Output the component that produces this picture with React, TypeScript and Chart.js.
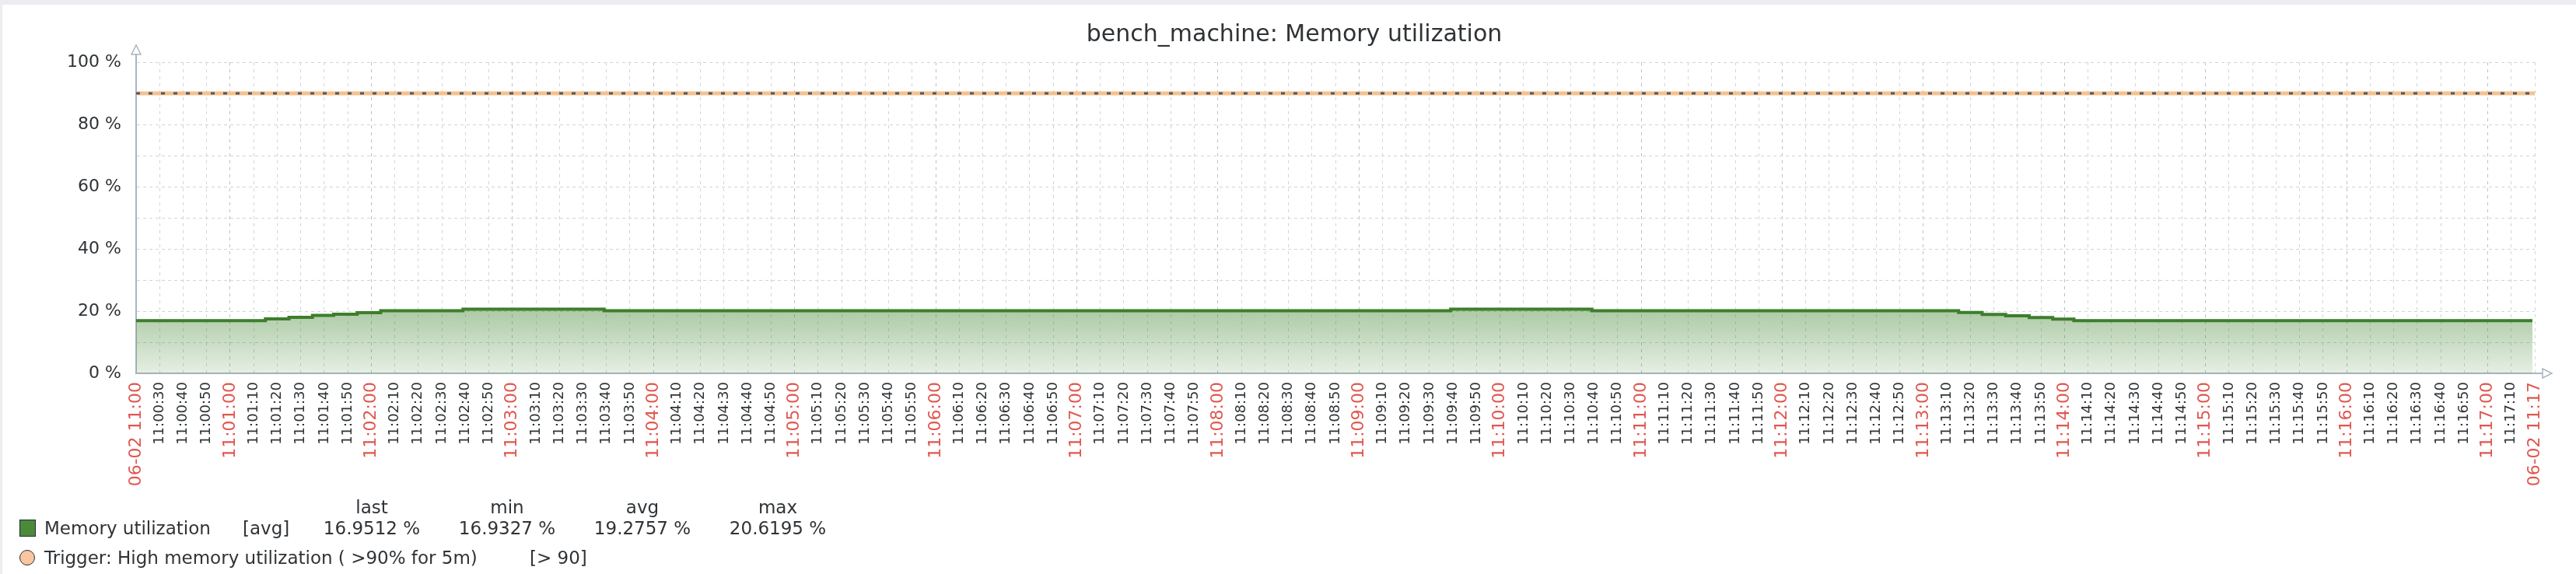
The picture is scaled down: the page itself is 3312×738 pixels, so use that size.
import React, { useEffect, useRef } from 'react';
import { Chart, registerables } from 'chart.js';

Chart.register(...registerables);

const W = 3312;
const H = 738;
const FONT = "'DejaVu Sans', sans-serif";

const TITLE = 'bench_machine: Memory utilization';
const DATE_LABEL = '06-02';
const HOUR_LABEL = '11';

// sample times (seconds after 11:00:00) where the value changes, and the value held from there on (%)
const sampleTimes = [20, 75, 85, 95, 104, 114, 124, 159, 219, 579, 639, 795, 805, 815, 825, 835, 844, 1039];
const memoryValues = [16.95, 17.5, 18.0, 18.6, 19.0, 19.5, 20.1, 20.62, 20.1, 20.62, 20.1, 19.55, 18.95, 18.5, 17.95, 17.45, 16.95, 16.95];

// trigger threshold line
const triggerTimes = [20, 1040];
const triggerValues = [90, 90];

// axis ranges / ticks
const xRange = [20, 1040];
const xTickStep = 10;
const yTickValues = [0, 10, 20, 30, 40, 50, 60, 70, 80, 90, 100];
const yLabelValues = [0, 20, 40, 60, 80, 100];

// legend
const legendHeaders = ['last', 'min', 'avg', 'max'];
const legendStats = ['16.9512 %', '16.9327 %', '19.2757 %', '20.6195 %'];
const legendCenters = [478, 652, 826, 1000];
const seriesName = 'Memory utilization';
const seriesFunc = '[avg]';
const triggerName = 'Trigger: High memory utilization ( >90% for 5m)';
const triggerCond = '[> 90]';

const pad2 = (n: number) => String(n).padStart(2, '0');

const xTickValues: number[] = (() => {
  const arr = [xRange[0]];
  for (let v = Math.ceil((xRange[0] + 1) / xTickStep) * xTickStep; v < xRange[1]; v += xTickStep) arr.push(v);
  arr.push(xRange[1]);
  return arr;
})();

const isEdge = (v: number) => v === xRange[0] || v === xRange[1];
const isMajor = (v: number) => isEdge(v) || v % 60 === 0;

const fmtX = (v: number) => {
  const m = Math.floor(v / 60);
  const s = v % 60;
  if (isEdge(v)) return `${DATE_LABEL} ${HOUR_LABEL}:${pad2(m)}`;
  return `${HOUR_LABEL}:${pad2(m)}:${pad2(s)}`;
};

const RED = '#e0574f';
const TXT = '#2f3336';
const AXIS = '#a9b6be';

export default function App() {
  const ref = useRef<HTMLCanvasElement | null>(null);

  useEffect(() => {
    const canvas = ref.current;
    if (!canvas) return;

    const bgPlugin = {
      id: 'bg',
      beforeDraw(chart: any) {
        const ctx = chart.ctx;
        ctx.save();
        ctx.fillStyle = '#ebedf0';
        ctx.fillRect(0, 0, W, H);
        ctx.fillStyle = '#ffffff';
        ctx.fillRect(3, 6, W - 3, H - 6);
        ctx.restore();
      },
    };

    const arrowPlugin = {
      id: 'arrows',
      afterDraw(chart: any) {
        const { ctx, chartArea: a } = chart;
        ctx.save();
        ctx.strokeStyle = AXIS;
        ctx.lineWidth = 2;
        ctx.beginPath();
        ctx.moveTo(a.left, a.top + 1);
        ctx.lineTo(a.left, a.top - 10);
        ctx.moveTo(a.right - 1, a.bottom);
        ctx.lineTo(a.right + 10, a.bottom);
        ctx.stroke();
        ctx.lineWidth = 1.5;
        ctx.fillStyle = '#ffffff';
        ctx.beginPath();
        ctx.moveTo(a.left - 6, a.top - 10);
        ctx.lineTo(a.left + 6, a.top - 10);
        ctx.lineTo(a.left, a.top - 22);
        ctx.closePath();
        ctx.fill();
        ctx.stroke();
        ctx.beginPath();
        ctx.moveTo(a.right + 10, a.bottom - 6);
        ctx.lineTo(a.right + 10, a.bottom + 6);
        ctx.lineTo(a.right + 22, a.bottom);
        ctx.closePath();
        ctx.fill();
        ctx.stroke();
        ctx.restore();
      },
    };

    const chart = new Chart(canvas, {
      type: 'line',
      data: {
        datasets: [
          {
            label: seriesName,
            data: sampleTimes.map((t, i) => ({ x: t, y: memoryValues[i] })),
            stepped: true,
            borderColor: '#3d7e2b',
            borderWidth: 4,
            pointRadius: 0,
            fill: 'origin',
            backgroundColor: (c: any) => {
              const ch = c.chart;
              const { ctx, chartArea, scales } = ch;
              if (!chartArea || !scales || !scales.y) return 'rgba(76,140,60,0.3)';
              const y0 = scales.y.getPixelForValue(0);
              const y1 = scales.y.getPixelForValue(21);
              const g = ctx.createLinearGradient(0, y1, 0, y0);
              g.addColorStop(0, 'rgba(76,140,60,0.47)');
              g.addColorStop(1, 'rgba(76,140,60,0.14)');
              return g;
            },
            order: 3,
          } as any,
          {
            label: 'trigger',
            data: triggerTimes.map((t, i) => ({ x: t, y: triggerValues[i] })),
            borderColor: '#f6c08e',
            borderWidth: 5,
            pointRadius: 0,
            fill: false,
            order: 2,
          },
          {
            label: 'trigger-dash',
            data: triggerTimes.map((t, i) => ({ x: t, y: triggerValues[i] })),
            borderColor: '#4e585e',
            borderWidth: 3,
            borderDash: [5, 11],
            pointRadius: 0,
            fill: false,
            order: 1,
          },
        ],
      },
      options: {
        animation: false,
        responsive: false,
        devicePixelRatio: 1,
        layout: { padding: { left: 69, right: 53, top: 0, bottom: H - 480 - 150 } },
        plugins: {
          legend: { display: false },
          tooltip: { enabled: false },
          title: {
            display: true,
            text: TITLE,
            color: TXT,
            font: { family: FONT, size: 30, weight: 'normal' },
            padding: { top: 27, bottom: 17 },
          },
        },
        scales: {
          x: {
            type: 'linear',
            min: xRange[0],
            max: xRange[1],
            afterBuildTicks: (s: any) => {
              s.ticks = xTickValues.map((v) => ({ value: v }));
            },
            afterFit: (s: any) => {
              s.height = 150;
            },
            ticks: {
              autoSkip: false,
              minRotation: 90,
              maxRotation: 90,
              padding: 11,
              callback: (v: any) => fmtX(Number(v)),
              color: (c: any) => (isMajor(c.tick.value) ? RED : TXT),
              font: (c: any) => ({ family: FONT, size: isMajor(c.tick?.value) ? 22 : 18 }),
            },
            grid: {
              drawTicks: false,
              color: (c: any) => (c.tick && c.tick.value % 60 === 0 ? '#b7c2c9' : '#cfd6db'),
              lineWidth: 1,
            },
            border: { display: true, color: AXIS, width: 2, dash: [4, 5] },
          } as any,
          y: {
            min: 0,
            max: 100,
            afterBuildTicks: (s: any) => {
              s.ticks = yTickValues.map((v) => ({ value: v }));
            },
            afterFit: (s: any) => {
              s.width = 175 - 69;
            },
            ticks: {
              padding: 19,
              color: TXT,
              font: { family: FONT, size: 22 },
              callback: (v: any) => (yLabelValues.includes(Number(v)) ? `${v} %` : ''),
            },
            grid: { drawTicks: false, color: '#cdd5da', lineWidth: 1 },
            border: { display: true, color: AXIS, width: 2, dash: [4, 4] },
          } as any,
        },
      },
      plugins: [bgPlugin, arrowPlugin],
    });

    return () => chart.destroy();
  }, []);

  const textStyle: React.CSSProperties = {
    position: 'absolute',
    fontFamily: FONT,
    fontSize: 23,
    lineHeight: '23px',
    color: TXT,
    whiteSpace: 'nowrap',
  };

  return (
    <div style={{ position: 'absolute', left: 0, top: 0, width: W, height: H, overflow: 'hidden' }}>
      <canvas ref={ref} width={W} height={H} style={{ display: 'block', width: W, height: H }} />
      {legendHeaders.map((h, i) => (
        <div key={h} style={{ ...textStyle, top: 641, left: legendCenters[i] - 100, width: 200, textAlign: 'center' }}>
          {h}
        </div>
      ))}
      <div
        style={{
          position: 'absolute',
          left: 25,
          top: 668,
          width: 19,
          height: 20,
          background: '#4a8a3a',
          border: '1px solid #1f2c33',
        }}
      />
      <div style={{ ...textStyle, top: 668, left: 57 }}>{seriesName}</div>
      <div style={{ ...textStyle, top: 668, left: 312 }}>{seriesFunc}</div>
      {legendStats.map((s, i) => (
        <div key={i} style={{ ...textStyle, top: 668, left: legendCenters[i] - 100, width: 200, textAlign: 'center' }}>
          {s}
        </div>
      ))}
      <div
        style={{
          position: 'absolute',
          left: 25,
          top: 707,
          width: 18,
          height: 18,
          borderRadius: '50%',
          background: '#f8c6a0',
          border: '1.5px solid #2a2f33',
        }}
      />
      <div style={{ ...textStyle, top: 706, left: 57 }}>{triggerName}</div>
      <div style={{ ...textStyle, top: 706, left: 681 }}>{triggerCond}</div>
    </div>
  );
}
